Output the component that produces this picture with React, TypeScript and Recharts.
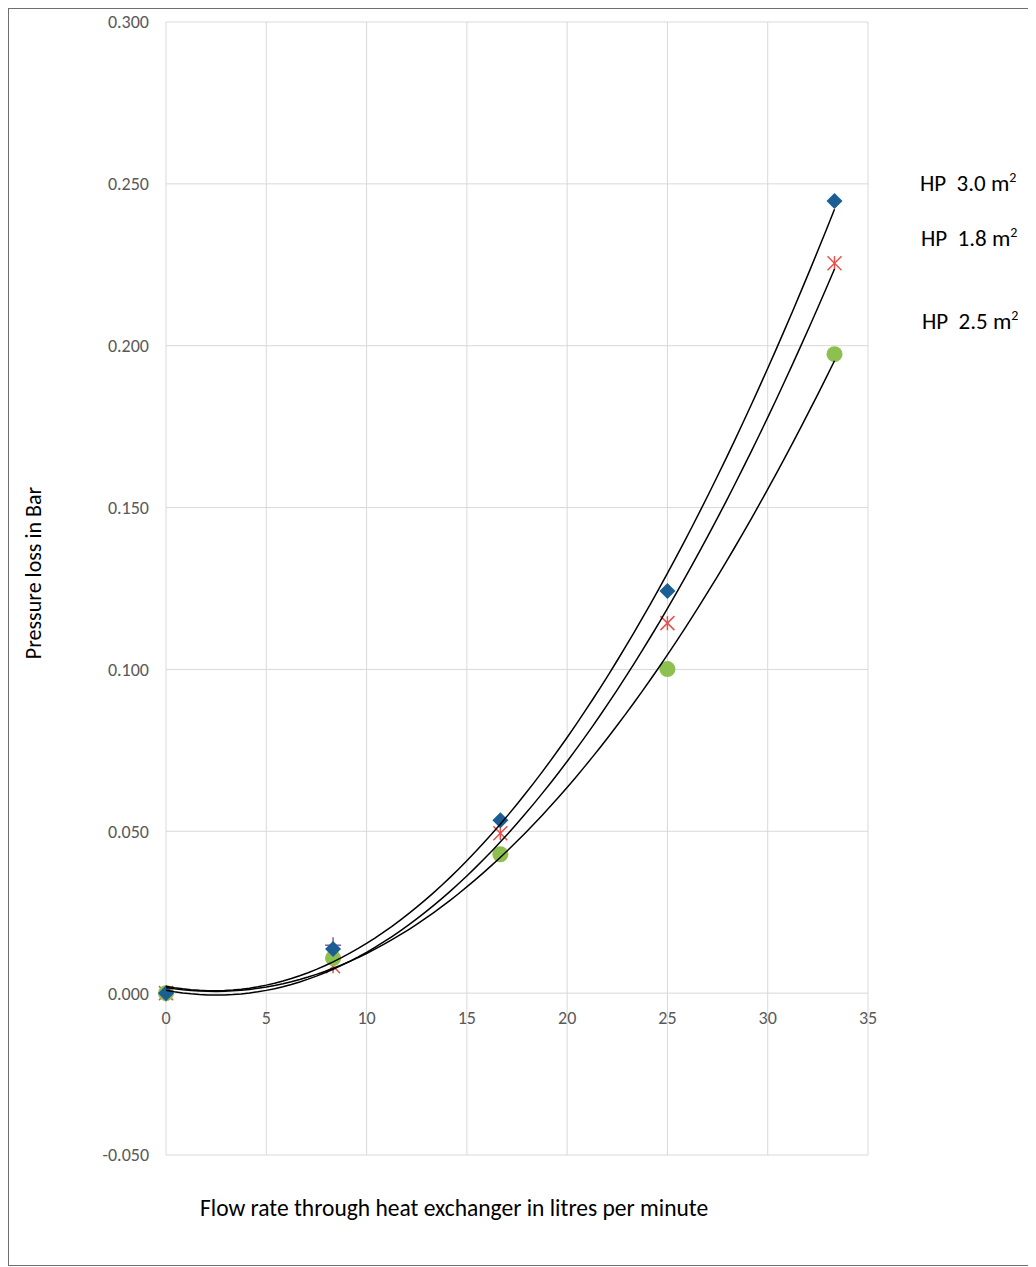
import React from "react";
import { ScatterChart, Scatter, XAxis, YAxis, CartesianGrid } from "recharts";

// flow rate (l/min) and pressure loss (bar)
const flowRates = [0, 8.33, 16.67, 25, 33.33];
const hp30Values = [0, 0.0136, 0.0534, 0.1242, 0.2447];
const hp18Values = [0, 0.0083, 0.0494, 0.1143, 0.2255];
const hp25Values = [0, 0.0108, 0.0429, 0.1001, 0.1974];
// faint purple marker mostly hidden behind the blue diamonds
const extraFlow = [0, 8.33];
const extraValues = [0, 0.0148];

const xTicks = [0, 5, 10, 15, 20, 25, 30, 35];
const yTicks = [-0.05, 0, 0.05, 0.1, 0.15, 0.2, 0.25, 0.3];

const FONT = "Carlito, Lato, 'Open Sans', sans-serif";
const WIDTH = 1019;
const HEIGHT = 1256;
const MARGIN = { top: 13, right: 160, bottom: 80, left: 97 };
const X_AXIS_H = 30;
const Y_AXIS_W = 60;
const PLOT_H = HEIGHT - MARGIN.top - MARGIN.bottom - X_AXIS_H;

const toPoints = (xs: number[], ys: number[]) => xs.map((x, i) => ({ x, y: ys[i] }));

// 2nd order polynomial trendline (least squares), like Excel's
function trend(xs: number[], ys: number[]) {
  const s = [0, 0, 0, 0, 0];
  const t = [0, 0, 0];
  xs.forEach((x, i) => {
    for (let k = 0; k < 5; k++) s[k] += Math.pow(x, k);
    for (let k = 0; k < 3; k++) t[k] += Math.pow(x, k) * ys[i];
  });
  const m = [
    [s[0], s[1], s[2], t[0]],
    [s[1], s[2], s[3], t[1]],
    [s[2], s[3], s[4], t[2]],
  ];
  for (let i = 0; i < 3; i++) {
    for (let j = i + 1; j < 3; j++) {
      const f = m[j][i] / m[i][i];
      for (let k = i; k < 4; k++) m[j][k] -= f * m[i][k];
    }
  }
  const c = [0, 0, 0];
  for (let i = 2; i >= 0; i--) {
    let v = m[i][3];
    for (let k = i + 1; k < 3; k++) v -= m[i][k] * c[k];
    c[i] = v / m[i][i];
  }
  const xMax = Math.max(...xs);
  const pts = [];
  for (let i = 0; i <= 80; i++) {
    const x = (xMax * i) / 80;
    pts.push({ x, y: c[0] + c[1] * x + c[2] * x * x });
  }
  return pts;
}

const Diamond = (p: any) => (
  <polygon
    points={`${p.cx},${p.cy - 8} ${p.cx + 8},${p.cy} ${p.cx},${p.cy + 8} ${p.cx - 8},${p.cy}`}
    fill="#1a5e93"
  />
);
const Star = (p: any) => (
  <g stroke="#e8504a" strokeWidth={1.5}>
    <line x1={p.cx - 7} y1={p.cy - 7} x2={p.cx + 7} y2={p.cy + 7} />
    <line x1={p.cx - 7} y1={p.cy + 7} x2={p.cx + 7} y2={p.cy - 7} />
    <line x1={p.cx} y1={p.cy - 7} x2={p.cx} y2={p.cy + 7} />
  </g>
);
const Dot = (p: any) => <circle cx={p.cx} cy={p.cy} r={8} fill="#8dc04e" />;
const Plus = (p: any) => (
  <g stroke="#7f5fa8" strokeWidth={1.5}>
    <line x1={p.cx - 8} y1={p.cy} x2={p.cx + 8} y2={p.cy} />
    <line x1={p.cx} y1={p.cy - 8} x2={p.cx} y2={p.cy + 8} />
  </g>
);
const NoShape = () => <g />;

// x labels sit next to the zero line, not at the bottom of the plot
const XTick = (p: any) => {
  const shift = PLOT_H * (0.05 / 0.35);
  return (
    <text x={p.x} y={p.y - shift + 25} dy="0.35em" textAnchor="middle" fill="#595959" fontSize={18} fontFamily={FONT}>
      {p.payload.value}
    </text>
  );
};

const labelStyle: React.CSSProperties = {
  position: "absolute",
  fontFamily: FONT,
  fontSize: 23,
  lineHeight: 1,
  whiteSpace: "pre",
  color: "#000",
};

export default function App() {
  return (
    <div
      style={{
        position: "relative",
        width: 1021,
        height: 1258,
        boxSizing: "border-box",
        border: "1px solid #6f6f6f",
        background: "#fff",
      }}
    >
      <ScatterChart width={WIDTH} height={HEIGHT} margin={MARGIN}>
        <CartesianGrid stroke="#d9d9d9" strokeWidth={1} />
        <XAxis
          type="number"
          dataKey="x"
          domain={[0, 35]}
          ticks={xTicks}
          height={X_AXIS_H}
          axisLine={false}
          tickLine={false}
          tickSize={0}
          tickMargin={0}
          tick={<XTick />}
          interval={0}
        />
        <YAxis
          type="number"
          dataKey="y"
          domain={[-0.05, 0.3]}
          ticks={yTicks}
          width={Y_AXIS_W}
          axisLine={false}
          tickLine={false}
          tickSize={0}
          tickMargin={17}
          interval={0}
          tickFormatter={(v: number) => v.toFixed(3)}
          tick={{ fill: "#595959", fontSize: 18, fontFamily: FONT }}
        />
        <Scatter data={toPoints(flowRates, hp18Values)} shape={<Star />} isAnimationActive={false} />
        <Scatter data={toPoints(extraFlow, extraValues)} shape={<Plus />} isAnimationActive={false} />
        <Scatter data={toPoints(flowRates, hp25Values)} shape={<Dot />} isAnimationActive={false} />
        <Scatter data={toPoints(flowRates, hp30Values)} shape={<Diamond />} isAnimationActive={false} />
        <Scatter
          data={trend(flowRates, hp30Values)}
          line={{ stroke: "#000", strokeWidth: 1.5 }}
          lineType="joint"
          shape={<NoShape />}
          isAnimationActive={false}
        />
        <Scatter
          data={trend(flowRates, hp18Values)}
          line={{ stroke: "#000", strokeWidth: 1.5 }}
          lineType="joint"
          shape={<NoShape />}
          isAnimationActive={false}
        />
        <Scatter
          data={trend(flowRates, hp25Values)}
          line={{ stroke: "#000", strokeWidth: 1.5 }}
          lineType="joint"
          shape={<NoShape />}
          isAnimationActive={false}
        />
      </ScatterChart>

      <div
        style={{
          ...labelStyle,
          left: 25,
          top: 564,
          fontSize: 22,
          transform: "translate(-50%, -50%) rotate(-90deg)",
        }}
      >
        Pressure loss in Bar
      </div>
      <div style={{ ...labelStyle, left: 191, top: 1188, fontSize: 23.5 }}>
        Flow rate through heat exchanger in litres per minute
      </div>
      <div style={{ ...labelStyle, left: 911, top: 162 }}>
        HP  3.0 m<sup style={{ fontSize: 14 }}>2</sup>
      </div>
      <div style={{ ...labelStyle, left: 912, top: 217 }}>
        HP  1.8 m<sup style={{ fontSize: 14 }}>2</sup>
      </div>
      <div style={{ ...labelStyle, left: 913, top: 300 }}>
        HP  2.5 m<sup style={{ fontSize: 14 }}>2</sup>
      </div>
    </div>
  );
}
